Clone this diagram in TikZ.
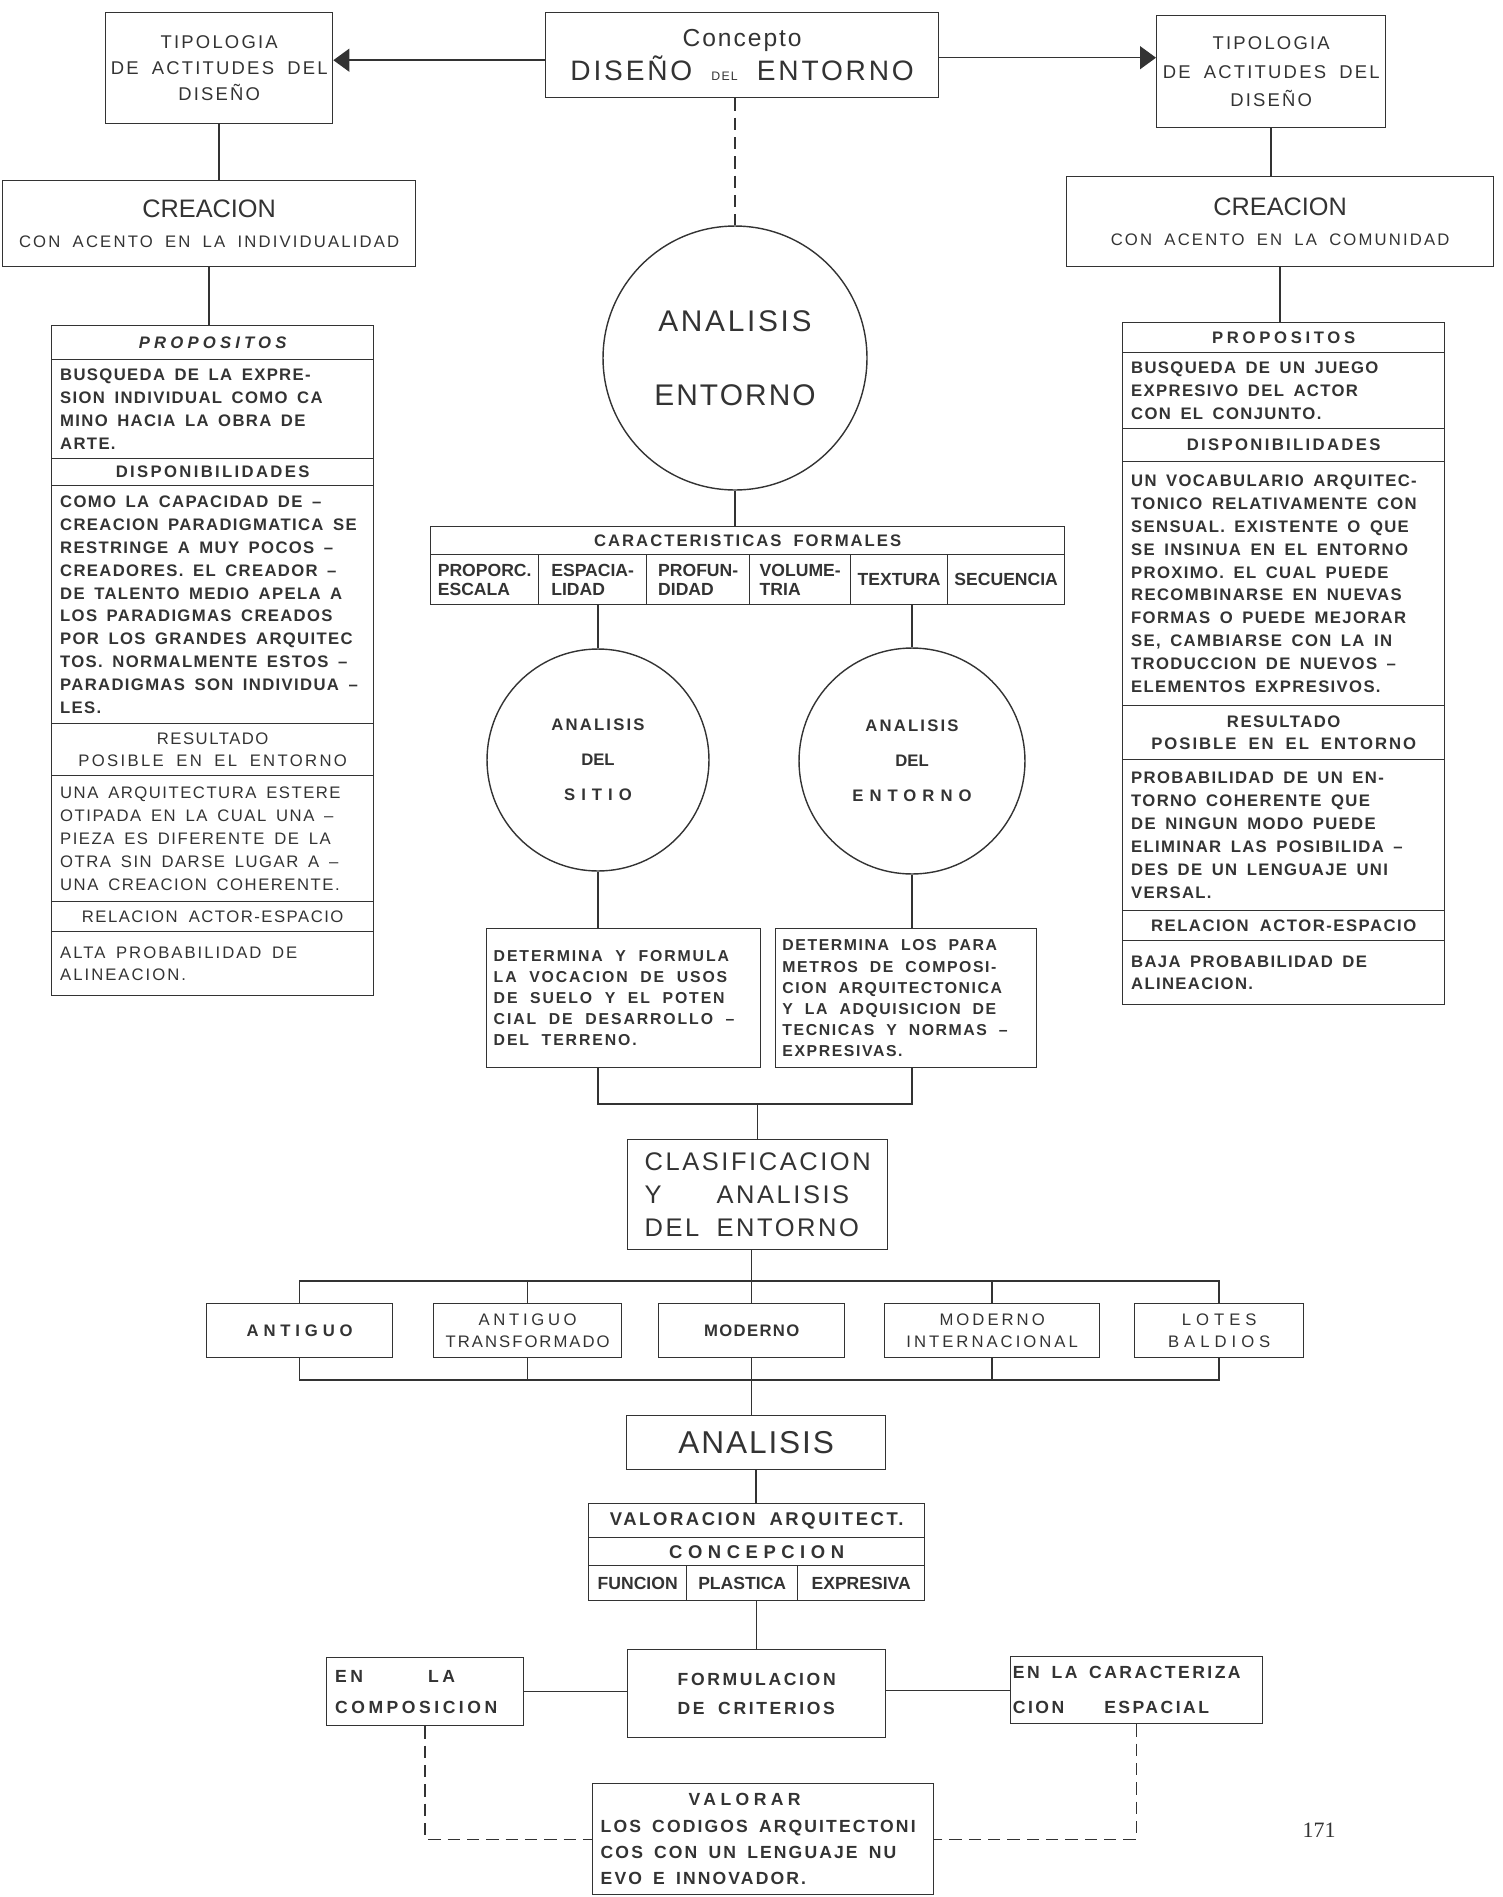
\documentclass[tikz,border=0pt]{standalone}
\usepackage{fontspec}
\setmainfont{Liberation Sans}
\newfontfamily\pagefont{Liberation Serif}
\usetikzlibrary{arrows.meta}
\definecolor{inkc}{gray}{0.2}
\newcommand\trk[2][1.8]{\addfontfeature{LetterSpace=#2}\spaceskip=#1\fontdimen2\font\relax}
\tikzset{
  frame/.style={draw=inkc, line width=0.8pt, inner sep=0pt, anchor=north west, align=center, text=inkc},
  wsp/.style={execute at begin node={\spaceskip=#1\fontdimen2\font plus 0.2\fontdimen2\font minus 0.6\fontdimen2\font\relax}},
  wsp/.default=1.6,
  bodytxt/.style={frame, wsp, align=left, font=\bfseries\fontsize{9.5}{13}\selectfont\trk{8}},
  headtxt/.style={frame, font=\bfseries\fontsize{9.5}{13}\selectfont\trk{14}},
  lighttxt/.style={frame, font=\fontsize{9.5}{13}\selectfont\trk{14}},
  cellbox/.style={frame, align=left, font=\bfseries\fontsize{10}{11}\selectfont},
  catbox/.style={frame, font=\bfseries\fontsize{9.5}{13}\selectfont},
  ring/.style={circle, draw=inkc, line width=0.8pt, inner sep=0pt, align=center, text=inkc},
  link/.style={draw=inkc, line width=0.8pt},
  dlink/.style={link, dash pattern=on 7pt off 4pt},
  arr/.style={link, -{Triangle[length=3.2mm,width=4.6mm]}}
}

\begin{document}
\begin{tikzpicture}[x=0.02cm, y=-0.02cm]
\useasboundingbox (0,0) rectangle (1503,1897);

% top row
\node[frame, minimum width=7.86cm, minimum height=1.70cm, font=\fontsize{14}{19}\selectfont] (conc) at (545,12)
  {{\trk{8}Concepto}\\{\fontsize{16}{19}\selectfont\trk{10}DISEÑO {\fontsize{7}{8}\selectfont DEL} ENTORNO}};
\node[frame, minimum width=4.54cm, minimum height=2.22cm, font=\fontsize{10.5}{15}\selectfont\trk{12}] (tipL) at (105,12)
  {TIPOLOGIA\\DE ACTITUDES DEL\\DISEÑO};
\node[frame, minimum width=4.58cm, minimum height=2.24cm, font=\fontsize{10.5}{16}\selectfont\trk{12}] (tipR) at (1156,15)
  {TIPOLOGIA\\DE ACTITUDES DEL\\DISEÑO};
\draw[arr] ([yshift=-0.1cm]conc.west) -- ([yshift=-0.1cm]conc.west -| tipL.east);
\draw[arr] ([yshift=-0.05cm]conc.east) -- ([yshift=-0.05cm]conc.east -| tipR.west);

\node[frame, minimum width=8.26cm, minimum height=1.72cm, font=\fontsize{9.5}{17}\selectfont] (creL) at (2,180)
  {{\fontsize{14.4}{17}\selectfont CREACION}\\{\trk{13}CON ACENTO EN LA INDIVIDUALIDAD}};
\node[frame, minimum width=8.54cm, minimum height=1.80cm, font=\fontsize{9.5}{17}\selectfont] (creR) at (1066,176)
  {{\fontsize{14.4}{17}\selectfont CREACION}\\{\trk{13}CON ACENTO EN LA COMUNIDAD}};
\draw[link] (tipL.south) -- (tipL.south |- creL.north);
\draw[link] (tipR.south) -- (tipR.south |- creR.north);

% left column
\node[headtxt, minimum width=6.44cm, minimum height=0.68cm, font=\bfseries\itshape\fontsize{9.5}{13}\selectfont\trk{25}] (lprop) at (51,325) {PROPOSITOS};
\node[bodytxt, minimum width=6.44cm, minimum height=1.98cm, text width=6.1cm] (lproptx) at (51,359)
  {BUSQUEDA DE LA EXPRE-\\SION INDIVIDUAL COMO CA\\MINO HACIA LA OBRA DE\\ARTE.};
\node[headtxt, minimum width=6.44cm, minimum height=0.54cm] (ldisp) at (51,458) {DISPONIBILIDADES};
\node[bodytxt, minimum width=6.44cm, minimum height=4.76cm, text width=6.1cm] (ldisptx) at (51,485)
  {COMO LA CAPACIDAD DE --\\CREACION PARADIGMATICA SE\\RESTRINGE A MUY POCOS --\\CREADORES. EL CREADOR --\\DE TALENTO MEDIO APELA A\\LOS PARADIGMAS CREADOS\\POR LOS GRANDES ARQUITEC\\TOS. NORMALMENTE ESTOS --\\PARADIGMAS SON INDIVIDUA --\\LES.};
\node[lighttxt, minimum width=6.44cm, minimum height=1.04cm] (lres) at (51,723)
  {{\trk{9}RESULTADO}\\{\trk{14}POSIBLE EN EL ENTORNO}};
\node[bodytxt, minimum width=6.44cm, minimum height=2.52cm, text width=6.1cm, font=\fontsize{9.5}{13}\selectfont\trk{9}] (lrestx) at (51,775)
  {UNA ARQUITECTURA ESTERE\\OTIPADA EN LA CUAL UNA --\\PIEZA ES DIFERENTE DE LA\\OTRA SIN DARSE LUGAR A --\\UNA CREACION COHERENTE.};
\node[lighttxt, minimum width=6.44cm, minimum height=0.60cm, font=\fontsize{9.5}{13}\selectfont\trk{9}] (lrel) at (51,901) {RELACION ACTOR-ESPACIO};
\node[bodytxt, minimum width=6.44cm, minimum height=1.28cm, text width=6.1cm, font=\fontsize{9.5}{13}\selectfont\trk{12}] (lreltx) at (51,931)
  {ALTA PROBABILIDAD DE\\ALINEACION.};
\draw[link] (creL.south) -- (creL.south |- lprop.north);

% right column
\node[headtxt, minimum width=6.44cm, minimum height=0.60cm, font=\bfseries\fontsize{9.5}{13}\selectfont\trk{22}] (rprop) at (1122,322) {PROPOSITOS};
\node[bodytxt, minimum width=6.44cm, minimum height=1.52cm, text width=6.1cm] (rproptx) at (1122,352)
  {BUSQUEDA DE UN JUEGO\\EXPRESIVO DEL ACTOR\\CON EL CONJUNTO.};
\node[headtxt, minimum width=6.44cm, minimum height=0.66cm] (rdisp) at (1122,428) {DISPONIBILIDADES};
\node[bodytxt, minimum width=6.44cm, minimum height=4.88cm, text width=6.1cm] (rdisptx) at (1122,461)
  {UN VOCABULARIO ARQUITEC-\\TONICO RELATIVAMENTE CON\\SENSUAL. EXISTENTE O QUE\\SE INSINUA EN EL ENTORNO\\PROXIMO. EL CUAL PUEDE\\RECOMBINARSE EN NUEVAS\\FORMAS O PUEDE MEJORAR\\SE, CAMBIARSE CON LA IN\\TRODUCCION DE NUEVOS --\\ELEMENTOS EXPRESIVOS.};
\node[headtxt, minimum width=6.44cm, minimum height=1.08cm] (rres) at (1122,705)
  {{\trk{9}RESULTADO}\\{\trk{12}POSIBLE EN EL ENTORNO}};
\node[bodytxt, minimum width=6.44cm, minimum height=3.02cm, text width=6.1cm] (rrestx) at (1122,759)
  {PROBABILIDAD DE UN EN-\\TORNO COHERENTE QUE\\DE NINGUN MODO PUEDE\\ELIMINAR LAS POSIBILIDA --\\DES DE UN LENGUAJE UNI\\VERSAL.};
\node[headtxt, minimum width=6.44cm, minimum height=0.60cm, font=\bfseries\fontsize{9.5}{13}\selectfont\trk{9}] (rrel) at (1122,910) {RELACION ACTOR-ESPACIO};
\node[bodytxt, minimum width=6.44cm, minimum height=1.28cm, text width=6.1cm] (rreltx) at (1122,940)
  {BAJA PROBABILIDAD DE\\ALINEACION.};
\draw[link] (creR.south) -- (creR.south |- rprop.north);

% centre
\node[ring, minimum size=5.28cm, font=\fontsize{17}{42}\selectfont] (cana) at (735,358) {{\trk{9}ANALISIS}\\{\trk{7}ENTORNO}};
\draw[dlink] (cana.north |- conc.south) -- (cana.north);

\node[headtxt, minimum width=12.68cm, minimum height=0.56cm, font=\bfseries\fontsize{9.5}{13}\selectfont\trk{12}] (cfh) at (430,526) {CARACTERISTICAS FORMALES};
\node[cellbox, minimum width=2.16cm, minimum height=1.00cm] (cf1) at (430,554) {PROPORC.\\ESCALA};
\node[cellbox, minimum width=2.16cm, minimum height=1.00cm] (cf2) at (538,554) {ESPACIA-\\LIDAD};
\node[cellbox, minimum width=2.06cm, minimum height=1.00cm] (cf3) at (646,554) {PROFUN-\\DIDAD};
\node[cellbox, minimum width=2.02cm, minimum height=1.00cm] (cf4) at (749,554) {VOLUME-\\TRIA};
\node[cellbox, minimum width=1.94cm, minimum height=1.00cm] (cf5) at (850,554) {TEXTURA};
\node[cellbox, minimum width=2.34cm, minimum height=1.00cm] (cf6) at (947,554) {SECUENCIA};
\draw[link] (cana.south) -- (cana.south |- cfh.north);

\node[ring, minimum size=4.44cm, font=\bfseries\fontsize{9.5}{20}\selectfont] (sit) at (598,760) {{\trk{13}ANALISIS}\\DEL\\{\trk{36}SITIO}};
\node[ring, minimum size=4.52cm, font=\bfseries\fontsize{9.5}{20}\selectfont] (ent) at (912,761) {{\trk{13}ANALISIS}\\DEL\\{\trk{36}ENTORNO}};
\draw[link] (sit.north) -- (sit.north |- cf2.south);
\draw[link] (ent.north) -- (ent.north |- cf5.south);

\node[bodytxt, wsp=2.0, minimum width=5.48cm, minimum height=2.78cm, text width=5.2cm, font=\bfseries\fontsize{9}{12}\selectfont\trk{12}] (sbox) at (486,928)
  {DETERMINA Y FORMULA\\LA VOCACION DE USOS\\DE SUELO Y EL POTEN\\CIAL DE DESARROLLO --\\DEL TERRENO.\\[12pt]};
\node[bodytxt, wsp=2.0, minimum width=5.22cm, minimum height=2.78cm, text width=4.95cm, font=\bfseries\fontsize{9}{12}\selectfont\trk{10}] (ebox) at (775,928)
  {DETERMINA LOS PARA\\METROS DE COMPOSI-\\CION ARQUITECTONICA\\Y LA ADQUISICION DE\\TECNICAS Y NORMAS --\\EXPRESIVAS.};
\draw[link] (sit.south) -- (sit.south |- sbox.north);
\draw[link] (ent.south) -- (ent.south |- ebox.north);

\node[frame, align=left, minimum width=5.20cm, minimum height=2.20cm, font=\fontsize{14.5}{19}\selectfont\trk{10}] (clas) at (627,1139)
  {CLASIFICACION\\Y\hspace{1.1cm}ANALISIS\\DEL ENTORNO};
\coordinate (jn) at (0,1104);
\draw[link] (sbox.south -| sit.south) -- (sit.south |- jn) -- (ent.south |- jn) -- (ebox.south -| ent.south);
\draw[link] (clas.north) -- (clas.north |- jn);

% categories
\node[catbox, minimum width=3.72cm, minimum height=1.08cm] (cat1) at (206,1303) {\trk{29}ANTIGUO};
\node[catbox, minimum width=3.76cm, minimum height=1.08cm, font=\fontsize{9.5}{13}\selectfont] (cat2) at (433,1303) {{\trk{22}ANTIGUO}\\{\trk{12}TRANSFORMADO}};
\node[catbox, minimum width=3.72cm, minimum height=1.08cm] (cat3) at (658,1303) {\trk{8}MODERNO};
\node[catbox, minimum width=4.30cm, minimum height=1.08cm, font=\fontsize{9.5}{13}\selectfont] (cat4) at (884,1303) {{\trk{18}MODERNO}\\{\trk{18}INTERNACIONAL}};
\node[catbox, minimum width=3.38cm, minimum height=1.08cm, font=\fontsize{9.5}{13}\selectfont] (cat5) at (1134,1303) {{\trk{30}LOTES}\\{\trk{30}BALDIOS}};
\coordinate (tb) at (0,1281);
\coordinate (bb) at (0,1380);
\draw[link] (cat1.north) -- (cat1.north |- tb) -- (cat5.north |- tb) -- (cat5.north);
\draw[link] (cat1.south) -- (cat1.south |- bb) -- (cat5.south |- bb) -- (cat5.south);
\foreach \c in {cat2,cat3,cat4} {
  \draw[link] (\c.north) -- (\c.north |- tb);
  \draw[link] (\c.south) -- (\c.south |- bb);
}
\draw[link] (clas.south -| cat3.north) -- (cat3.north |- tb);

\node[frame, minimum width=5.18cm, minimum height=1.08cm, font=\fontsize{18}{20}\selectfont\trk{6}] (ana) at (626,1415) {ANALISIS};
\draw[link] (cat3.south |- bb) -- (cat3.south |- ana.north);

% valoracion
\node[headtxt, minimum width=6.72cm, minimum height=0.68cm, font=\bfseries\fontsize{10.5}{13}\selectfont\trk{14}] (val1) at (588,1503) {VALORACION ARQUITECT.};
\node[headtxt, minimum width=6.72cm, minimum height=0.56cm, font=\bfseries\fontsize{10.5}{13}\selectfont\trk{30}] (val2) at (588,1537) {CONCEPCION};
\node[cellbox, minimum width=1.96cm, minimum height=0.70cm] (val3a) at (588,1565) {FUNCION};
\node[cellbox, minimum width=2.22cm, minimum height=0.70cm] (val3b) at (686,1565) {PLASTICA};
\node[cellbox, minimum width=2.54cm, minimum height=0.70cm] (val3c) at (797,1565) {EXPRESIVA};
\draw[link] (ana.south) -- (ana.south |- val1.north);

\node[frame, align=left, minimum width=5.16cm, minimum height=1.76cm, font=\bfseries\fontsize{10}{16.5}\selectfont\trk{15}] (form) at (627,1649)
  {FORMULACION\\DE CRITERIOS};
\draw[link] (form.north) -- (form.north |- val3b.south);

\node[frame, align=left, text width=3.6cm, minimum width=3.94cm, minimum height=1.36cm, font=\bfseries\fontsize{10}{17.5}\selectfont\trk{20}] (comp) at (326,1657)
  {EN\hspace{1.3cm}LA\\COMPOSICION};
\node[frame, wsp, align=left, text width=4.95cm, minimum width=5.04cm, minimum height=1.34cm, font=\bfseries\fontsize{10}{20}\selectfont\trk{14}] (car) at (1010,1656)
  {EN LA CARACTERIZA\\CION\hspace{0.8cm}ESPACIAL};
\draw[link] (comp.east) -- (comp.east -| form.west);
\draw[link] (car.west) -- (car.west -| form.east);

\node[frame, wsp, align=left, text width=6.5cm, minimum width=6.82cm, minimum height=2.22cm, font=\bfseries\fontsize{10}{15}\selectfont\trk{12}] (valo) at (592,1783)
  {\hspace*{1.76cm}{\trk{25}VALORAR}\\LOS CODIGOS ARQUITECTONI\\COS CON UN LENGUAJE NU\\EVO E INNOVADOR.};
\draw[dlink] (comp.south) |- (valo.west);
\draw[dlink] (car.south) |- (valo.east);

\node[text=inkc, font=\pagefont\fontsize{12.5}{14}\selectfont] (pgno) at (1319,1830) {171};
\end{tikzpicture}
\end{document}
